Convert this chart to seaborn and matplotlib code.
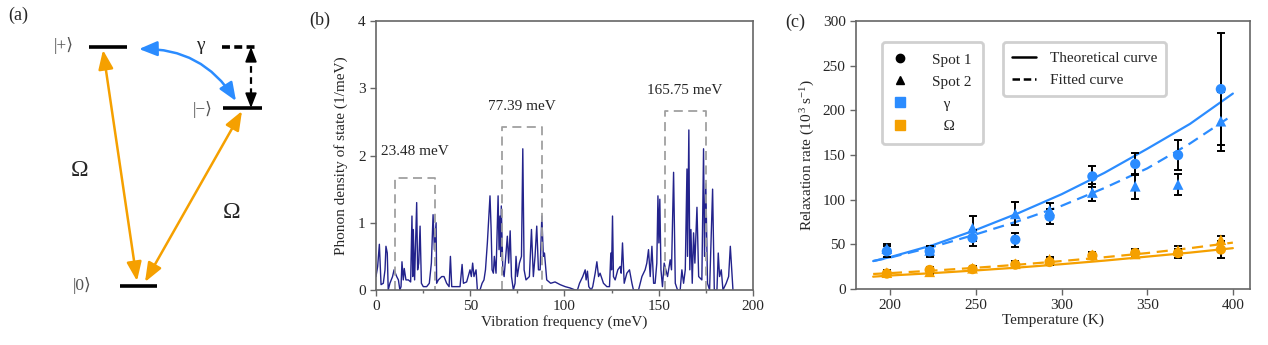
import matplotlib
matplotlib.use('Agg')
import matplotlib.pyplot as plt
import seaborn as sns
import numpy as np
import pandas as pd
from matplotlib.lines import Line2D
from matplotlib.ticker import MultipleLocator

# ---------------- data ----------------
# panel (b): phonon density of states
dos_freq = [0.0, 0.9, 1.8, 2.7, 3.9, 4.8, 5.3, 6.0, 6.5, 7.4, 8.8, 9.6, 11.0, 11.9, 12.7, 13.3, 13.8,
            14.5, 15.0, 15.9, 17.2, 18.4, 19.1, 19.5, 19.8, 20.5, 21.6, 22.1, 22.7, 23.4, 24.1, 25.1,
            26.9, 28.3, 29.4, 30.3, 31.0, 31.9, 32.2, 33.1, 34.9, 36.1, 37.5, 38.8, 39.5, 40.2, 42.8,
            44.6, 45.7, 46.4, 48.1, 49.9, 50.6, 51.3, 52.0, 53.1, 53.8, 55.2, 56.3, 57.3, 58.1, 59.1,
            60.5, 61.1, 61.6, 62.3, 62.8, 63.7, 64.8, 65.3, 65.8, 66.2, 66.5, 67.3, 68.0, 69.7, 70.4,
            71.2, 71.9, 72.9, 73.8, 74.3, 75.0, 76.1, 77.2, 77.9, 78.6, 79.6, 81.4, 82.5, 83.5, 84.4,
            85.3, 86.2, 87.1, 88.0, 88.8, 89.4, 90.6, 92.7, 95.0, 97.7, 100.4, 103.0, 105.7, 106.9,
            108.0, 109.7, 111.0, 111.5, 112.2, 112.9, 114.2, 115.0, 116.3, 117.2, 118.1, 118.9, 120.7,
            122.5, 123.9, 124.6, 125.0, 125.5, 126.0, 126.9, 128.3, 129.6, 130.1, 130.8, 131.7, 133.1,
            134.5, 135.8, 136.6, 139.3, 141.1, 142.8, 143.7, 144.6, 145.5, 146.4, 147.3, 148.1, 149.0,
            149.6, 150.1, 150.6, 151.2, 152.0, 152.9, 153.8, 154.7, 156.1, 156.8, 157.9, 158.8, 160.0,
            161.4, 162.3, 163.2, 164.1, 165.0, 165.3, 166.0, 166.5, 167.1, 167.8, 168.5, 169.2, 170.3,
            171.2, 172.9, 173.8, 174.3, 175.0, 175.9, 177.0, 178.6, 179.5, 180.9, 181.6, 182.3, 183.2,
            184.1, 185.8, 187.1, 188.0, 189.4]
dos_val = [0.2, 0.35, 0.68, 0.08, 0.1, 0.3, 0.65, 0.55, 0.0, 0.1, 0.2, 0.3, 0.2, 0.15, 0.0, 0.05, 0.42,
           0.15, 0.32, 0.15, 0.15, 0.12, 1.1, 0.2, 0.9, 0.15, 1.3, 0.3, 0.4, 0.95, 0.1, 0.05,
           0.05, 0.1, 0.4, 1.12, 0.6, 1.0, 0.1, 0.15, 0.2, 0.2, 0.1, 0.05, 0.5, 0.05, 0.05,
           0.05, 0.38, 0.1, 0.12, 0.3, 0.2, 0.4, 0.2, 0.3, 0.0, 0.0, 0.1, 0.15, 0.3, 0.7,
           1.4, 0.9, 0.3, 0.25, 0.5, 0.25, 1.4, 0.6, 1.1, 0.5, 1.25, 0.3, 0.2, 0.8, 0.4,
           0.88, 0.2, 0.0, 0.1, 0.5, 0.2, 0.4, 0.5, 2.1, 0.3, 0.15, 0.2, 0.9, 0.2, 0.5,
           0.95, 0.3, 0.3, 1.1, 0.5, 0.55, 0.15, 0.1, 0.12, 0.08, 0.05, 0.03, 0.0, 0.0,
           0.1, 0.2, 0.3, 0.15, 0.28, 0.05, 0.0, 0.05, 0.25, 0.42, 0.2, 0.25, 0.1,
           0.05, 0.05, 0.55, 0.3, 1.1, 0.2, 0.15, 0.3, 0.35, 0.25, 0.7, 0.1, 0.25,
           0.3, 0.1, 0.0, 0.0, 0.2, 0.3, 0.4, 0.6, 0.2, 0.65, 0.1, 0.1, 0.4,
           1.4, 0.7, 1.35, 0.3, 0.05, 0.4, 0.3, 0.2, 0.45, 0.3, 1.75, 0.1, 0.0,
           0.0, 0.3, 0.1, 0.3, 1.8, 0.5, 2.38, 0.3, 0.9, 0.1, 0.85, 0.4, 1.23,
           0.2, 0.15, 2.1, 0.5, 1.58, 0.1, 0.0, 1.5, 0.0, 0.0, 0.55, 0.2, 0.3,
           0.0, 0.1, 0.2, 0.65, 0.0]
box_left = [10.1, 66.7, 153.5]
box_right = [31.3, 88.3, 175.0]
box_top = [1.67, 2.42, 2.66]
peak_labels = ['23.48 meV', '77.39 meV', '165.75 meV']
peak_label_x = [20.4, 77.3, 163.7]
peak_label_y = [2.06, 2.73, 2.96]

# panel (c): relaxation rates
temps = [198, 223, 248, 273, 293, 318, 343, 368, 393]
gamma_spot1 = [42, 42, 57, 55, 81, 126, 140, 150, 224]
gamma_spot1_err = [6, 6, 9, 8, 8, 12, 12, 17, 63]
gamma_spot2 = [45, 43, 68, 84, 88, 108, 115, 117, 188]
gamma_spot2_err = [5, 5, 14, 13, 8, 10, 14, 12, 33]
omega_spot1 = [17, 21, 22, 27, 30, 37, 40, 40, 44]
omega_spot1_err = [3, 3, 3, 3, 3, 3, 4, 5, 10]
omega_spot2 = [18, 19, 23, 28, 33, 38, 39, 43, 55]
omega_spot2_err = [3, 3, 3, 3, 3, 3, 3, 5, 4]

curve_T = [190, 200, 225, 250, 275, 300, 325, 350, 375, 400]
gamma_theory = [31, 35.5, 49, 66, 85, 106, 130, 157, 185, 219]
gamma_fit = [31, 35, 47, 61, 76, 93, 113, 135, 163, 195]
omega_theory = [13.5, 14.8, 17.5, 20.5, 23.8, 27.5, 31.5, 36, 40.5, 45.5]
omega_fit = [16.5, 17.5, 20.3, 23.5, 27, 31, 35.3, 40, 45.5, 51.7]

# ---------------- style ----------------
sns.set_style('ticks')
plt.rcParams['font.family'] = ['Liberation Serif', 'DejaVu Serif', 'DejaVu Sans']
plt.rcParams['mathtext.fontset'] = 'custom'
plt.rcParams['mathtext.rm'] = 'Liberation Serif'
plt.rcParams['mathtext.it'] = 'Liberation Serif:italic'

BLUE = '#2b8cff'
ORANGE = '#f5a000'
NAVY = '#23238c'
SPINE = '#666666'
FS = 11

fig = plt.figure(figsize=(12.68, 3.45), dpi=100)

# ---------------- panel (a) ----------------
axa = fig.add_axes([0, 0, 300 / 1268, 1])
axa.set_xlim(0, 300)
axa.set_ylim(345, 0)
axa.axis('off')
axa.text(18, 15, '(a)', fontsize=13, ha='center', va='center')

# levels
axa.plot([89, 127], [47, 47], color='k', lw=2.6, solid_capstyle='butt')
axa.plot([222, 256], [47, 47], color='k', lw=2.6, ls=(0, (2.2, 1.2)), solid_capstyle='butt')
axa.plot([223, 262], [108, 108], color='k', lw=2.6, solid_capstyle='butt')
axa.plot([120, 157], [286, 286], color='k', lw=2.6, solid_capstyle='butt')
ket_kw = dict(fontsize=12.5, color='#555555', ha='center', va='center')
axa.text(64, 46, '|+\u27e9', **ket_kw)
axa.text(203, 109, '|\u2212\u27e9', **ket_kw)
axa.text(82, 286, '|0\u27e9', **ket_kw)

# arrows
o_kw = dict(arrowstyle='<|-|>,head_length=1.15,head_width=0.45', color=ORANGE, lw=1.8,
            shrinkA=0, shrinkB=0)
axa.annotate('', xy=(137, 281), xytext=(103, 50), arrowprops=o_kw)
axa.annotate('', xy=(145, 282), xytext=(242, 111), arrowprops=o_kw)
b_kw = dict(arrowstyle='<|-|>,head_length=1.1,head_width=0.45', color=BLUE, lw=1.8,
            shrinkA=0, shrinkB=0, connectionstyle='arc3,rad=-0.28')
axa.annotate('', xy=(236, 101), xytext=(139, 49), arrowprops=b_kw)
axa.plot([251, 251], [55, 100], color='k', lw=1.6, ls=(0, (3, 2)))
h_kw = dict(arrowstyle='-|>,head_length=0.9,head_width=0.35', color='k', lw=1.2,
            shrinkA=0, shrinkB=0)
axa.annotate('', xy=(251, 47), xytext=(251, 58), arrowprops=h_kw)
axa.annotate('', xy=(251, 108), xytext=(251, 97), arrowprops=h_kw)
axa.text(200, 45, '\u03b3', fontsize=14, ha='center', va='center')
axa.text(80, 171, '\u03a9', fontsize=17, ha='center', va='center')
axa.text(232, 212, '\u03a9', fontsize=17, ha='center', va='center')


def style_axes(ax):
    for s in ax.spines.values():
        s.set_visible(True)
        s.set_color(SPINE)
        s.set_linewidth(1.2)
    ax.tick_params(which='both', direction='out', color=SPINE, labelsize=FS, width=1.0)
    ax.tick_params(which='major', length=4)
    ax.tick_params(which='minor', length=2.5)


# ---------------- panel (b) ----------------
axb = fig.add_axes([0.2965, 0.1594, 0.2973, 0.7797])
dos_df = pd.DataFrame({'freq': dos_freq, 'dos': dos_val})
sns.lineplot(data=dos_df, x='freq', y='dos', ax=axb, color=NAVY, lw=1.0,
             sort=False, estimator=None)
for x0, x1, top, lab, lx, ly in zip(box_left, box_right, box_top, peak_labels,
                                    peak_label_x, peak_label_y):
    axb.plot([x0, x0, x1, x1], [0, top, top, 0], color='#a0a0a0', lw=1.3,
             ls=(0, (5, 3)))
    axb.text(lx, ly, lab, fontsize=FS, ha='center', va='center')
axb.set_xlim(0, 200)
axb.set_ylim(0, 4)
axb.set_xticks([0, 50, 100, 150, 200])
axb.xaxis.set_minor_locator(MultipleLocator(25))
axb.set_yticks([0, 1, 2, 3, 4])
axb.set_xlabel('Vibration frequency (meV)', fontsize=FS, labelpad=1)
axb.set_ylabel('Phonon density of state (1/meV)', fontsize=FS, labelpad=7)
style_axes(axb)
fig.text(320 / 1268, 1 - 20 / 345, '(b)', fontsize=13, ha='center', va='center')

# ---------------- panel (c) ----------------
axc = fig.add_axes([0.6751, 0.1632, 0.3107, 0.7748])
sns.lineplot(x=curve_T, y=gamma_theory, ax=axc, color=BLUE, lw=1.6)
sns.lineplot(x=curve_T, y=gamma_fit, ax=axc, color=BLUE, lw=1.6, ls=(0, (5, 3)))
sns.lineplot(x=curve_T, y=omega_theory, ax=axc, color=ORANGE, lw=1.6)
sns.lineplot(x=curve_T, y=omega_fit, ax=axc, color=ORANGE, lw=1.6, ls=(0, (5, 3)))

eb_kw = dict(fmt='none', ecolor='k', elinewidth=1.4, capsize=3.2, capthick=1.4, zorder=3)
for vals, errs in [(gamma_spot1, gamma_spot1_err), (gamma_spot2, gamma_spot2_err),
                   (omega_spot1, omega_spot1_err), (omega_spot2, omega_spot2_err)]:
    axc.errorbar(temps, vals, yerr=errs, **eb_kw)

sns.scatterplot(x=temps, y=gamma_spot1, ax=axc, color=BLUE, marker='o', s=55,
                edgecolor='none', zorder=4)
sns.scatterplot(x=temps, y=gamma_spot2, ax=axc, color=BLUE, marker='^', s=60,
                edgecolor='none', zorder=4)
sns.scatterplot(x=temps, y=omega_spot1, ax=axc, color=ORANGE, marker='o', s=55,
                edgecolor='none', zorder=4)
sns.scatterplot(x=temps, y=omega_spot2, ax=axc, color=ORANGE, marker='^', s=60,
                edgecolor='none', zorder=4)

axc.set_xlim(180, 410)
axc.set_ylim(0, 300)
axc.set_xticks([200, 250, 300, 350, 400])
axc.set_yticks([0, 50, 100, 150, 200, 250, 300])
axc.set_xlabel('Temperature (K)', fontsize=FS, labelpad=1)
axc.set_ylabel('Relaxation rate (10$^{\\,3}$ s$^{-1}$)', fontsize=FS, labelpad=4)
style_axes(axc)
fig.text(795 / 1268, 1 - 22 / 345, '(c)', fontsize=13, ha='center', va='center')

h1 = [Line2D([], [], ls='none', marker='o', color='k', markersize=6),
      Line2D([], [], ls='none', marker='^', color='k', markersize=6),
      Line2D([], [], ls='none', marker='s', color=BLUE, markersize=7),
      Line2D([], [], ls='none', marker='s', color=ORANGE, markersize=7)]
l1 = ['Spot 1', 'Spot 2', '   \u03b3', '   \u03a9']
leg1 = axc.legend(h1, l1, loc='upper left', bbox_to_anchor=(0.066, 0.922), frameon=True,
                  fontsize=FS, handlelength=1.0, handletextpad=1.6, labelspacing=0.55,
                  borderpad=0.7, borderaxespad=0, fancybox=True, framealpha=1)
leg1.get_frame().set_edgecolor('#d0d0d0')
leg1.get_frame().set_linewidth(2)
axc.add_artist(leg1)
h2 = [Line2D([], [], color='k', lw=1.8),
      Line2D([], [], color='k', lw=1.8, ls=(0, (3, 1.5)))]
leg2 = axc.legend(h2, ['Theoretical curve', 'Fitted curve'], loc='upper left',
                  bbox_to_anchor=(0.372, 0.922), frameon=True, fontsize=FS,
                  handlelength=1.6, handletextpad=0.9, labelspacing=0.55,
                  borderpad=0.6, borderaxespad=0, fancybox=True, framealpha=1)
leg2.get_frame().set_edgecolor('#d0d0d0')
leg2.get_frame().set_linewidth(2)

fig.savefig('out.png', dpi=100)
